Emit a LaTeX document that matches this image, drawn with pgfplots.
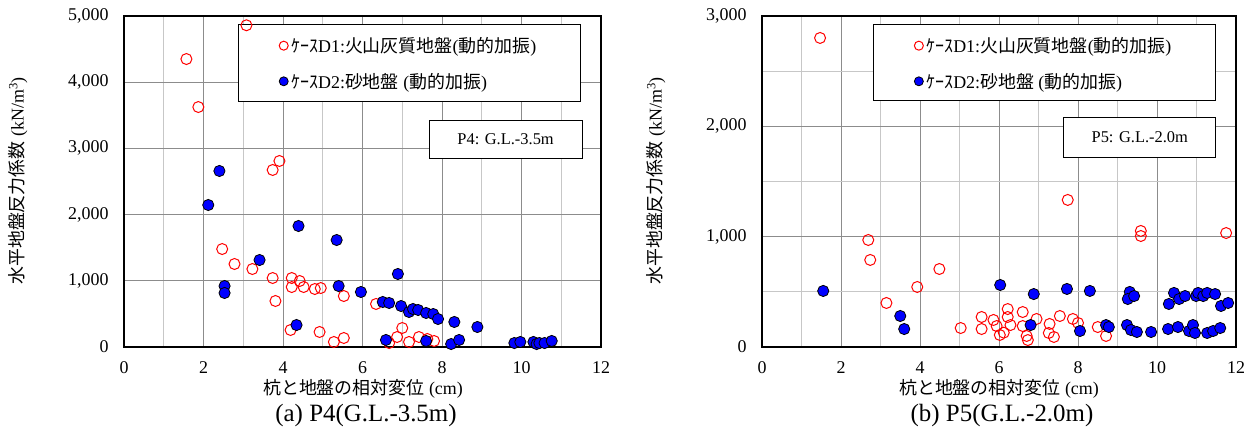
\documentclass[border=0pt]{standalone}
\usepackage{fontspec}
\setmainfont{Liberation Serif}
\newfontfamily\jp{Noto Sans CJK JP}
\usepackage{pgfplots}
\pgfplotsset{compat=1.18}

\pgfplotstableread{
x y
1.57 4350
1.87 3625
3.08 4860
3.91 2810
3.74 2674
2.47 1480
2.78 1254
3.23 1178
3.74 1042
4.22 1042
4.22 906
4.42 997
4.52 906
4.80 876
4.95 891
3.81 695
4.19 257
4.92 227
5.28 76
5.53 136
5.53 770
6.34 650
6.67 60
6.87 151
7.00 287
7.17 76
7.42 151
7.63 121
7.80 91
}\leftA

\pgfplotstableread{
x y
2.40 2659
2.12 2145
4.39 1828
3.41 1314
2.53 921
2.53 816
4.34 332
5.35 1616
6.89 1103
5.40 921
5.96 831
6.51 680
6.67 665
6.97 619
7.17 529
7.27 574
7.40 559
7.60 514
7.78 498
7.90 423
8.31 378
8.89 302
6.59 106
7.60 91
8.23 45
8.43 106
9.82 60
9.97 76
10.30 76
10.38 45
10.45 60
10.58 60
10.76 91
}\leftB

\pgfplotstableread{
x y
1.47 2801
2.69 970
2.74 789
4.49 707
3.93 544
3.15 399
5.03 172
5.56 272
5.56 163
5.86 245
5.94 190
6.02 109
7.74 1333
9.59 1052
9.59 1006
11.75 1033
6.12 130
6.22 344
6.22 272
6.29 199
6.60 317
6.60 190
6.70 100
6.73 63
6.95 254
7.28 209
7.26 127
7.39 91
7.54 281
7.87 254
8.00 218
8.50 181
8.71 100
}\rightA

\pgfplotstableread{
x y
1.55 508
3.50 281
3.60 163
6.03 562
6.88 480
7.72 526
8.30 508
9.31 499
9.26 435
9.42 462
10.43 490
10.30 390
10.56 435
10.71 462
10.99 462
11.04 490
11.17 462
11.27 490
11.47 480
11.62 372
11.80 399
6.80 199
8.05 145
8.71 199
8.78 181
9.24 199
9.34 154
9.49 136
9.85 136
10.28 163
10.53 181
10.81 145
10.91 199
10.96 127
11.27 127
11.42 145
11.60 172
}\rightB

\pgfplotsset{
  myax/.style={
    scale only axis, height=331bp,
    anchor=south west,
    xmin=0, xmax=12, ymin=0,
    xtick={0,2,...,12}, minor x tick num=1,
    grid=both,
    major grid style={color=black!45, line width=0.9bp},
    minor grid style={color=black!22, line width=0.9bp},
    major tick length=0pt, minor tick length=0pt,
    axis line style={black, line width=1.2bp},
    clip=false,
    tick label style={font=\fontsize{18}{18}\selectfont},
    /pgf/number format/assume math mode=true,
    xticklabel={\pgfmathprintnumber{\tick}},
    yticklabel={\pgfmathprintnumber[1000 sep={,}]{\tick}},
    xticklabel style={yshift=-11bp},
    yticklabel style={xshift=-12bp},
    legend style={draw=none, fill=none, font=\fontsize{18}{18}\selectfont,
      inner sep=0pt, row sep=19bp, nodes={inner sep=0pt},
      /tikz/every odd column/.append style={column sep=3bp},
      anchor=west},
    legend cell align=left,
    legend image code/.code={\draw[##1, mark size=4.5bp] plot coordinates {(0bp,0bp)};},
  },
  d1/.style={only marks, mark=o, mark size=5.5bp, red, mark options={line width=1bp, draw=red}},
  d2/.style={only marks, mark=*, mark size=5.6bp, mark options={fill=blue, draw=black, line width=0.8bp}},
}

\begin{document}
\begin{tikzpicture}[x=1bp,y=1bp]
\useasboundingbox (0,0) rectangle (1251,432);

\begin{axis}[myax, at={(124bp,85bp)}, width=477bp,
  ymax=5000, ytick={0,1000,...,5000},
  legend style={at={(rel axis cs:0.325,0.8565)}}]
\addplot[d1] table {\leftA};
\addplot[d2] table {\leftB};
\draw[fill=white, line width=1bp] (rel axis cs:0.241,0.743) rectangle (rel axis cs:0.956,0.973);
\node[draw, fill=white, line width=1bp, minimum width=153bp, minimum height=38bp,
  font=\fontsize{16.5}{16.5}\selectfont] at (rel axis cs:0.800,0.628) {P4: G.L.-3.5m};
\addlegendentry{{\jp ｹｰｽ}D1:{\jp 火山灰質地盤}({\jp 動的加振})}
\addlegendentry{{\jp ｹｰｽ}D2:{\jp 砂地盤} ({\jp 動的加振})}
\end{axis}

\begin{axis}[myax, at={(762bp,85bp)}, width=474bp,
  ymax=3000, ytick={0,1000,2000,3000}, minor y tick num=1,
  legend style={at={(rel axis cs:0.321,0.8565)}}]
\addplot[d1] table {\rightA};
\addplot[d2] table {\rightB};
\draw[fill=white, line width=1bp] (rel axis cs:0.236,0.746) rectangle (rel axis cs:0.956,0.973);
\node[draw, fill=white, line width=1bp, minimum width=152bp, minimum height=40bp,
  font=\fontsize{16.5}{16.5}\selectfont] at (rel axis cs:0.797,0.634) {P5: G.L.-2.0m};
\addlegendentry{{\jp ｹｰｽ}D1:{\jp 火山灰質地盤}({\jp 動的加振})}
\addlegendentry{{\jp ｹｰｽ}D2:{\jp 砂地盤} ({\jp 動的加振})}
\end{axis}

\node[rotate=90, font=\fontsize{18}{18}\selectfont] at (18,251) {{\jp 水平地盤反力係数} (kN/m\textsuperscript{3})};
\node[rotate=90, font=\fontsize{18}{18}\selectfont] at (656,251) {{\jp 水平地盤反力係数} (kN/m\textsuperscript{3})};
\node[font=\fontsize{18}{18}\selectfont] at (363,43) {{\jp 杭と地盤の相対変位} (cm)};
\node[font=\fontsize{18}{18}\selectfont] at (999,43) {{\jp 杭と地盤の相対変位} (cm)};
\node[font=\fontsize{25}{25}\selectfont] at (366,16) {(a) P4(G.L.-3.5m)};
\node[font=\fontsize{25}{25}\selectfont] at (1002,16) {(b) P5(G.L.-2.0m)};
\end{tikzpicture}
\end{document}
